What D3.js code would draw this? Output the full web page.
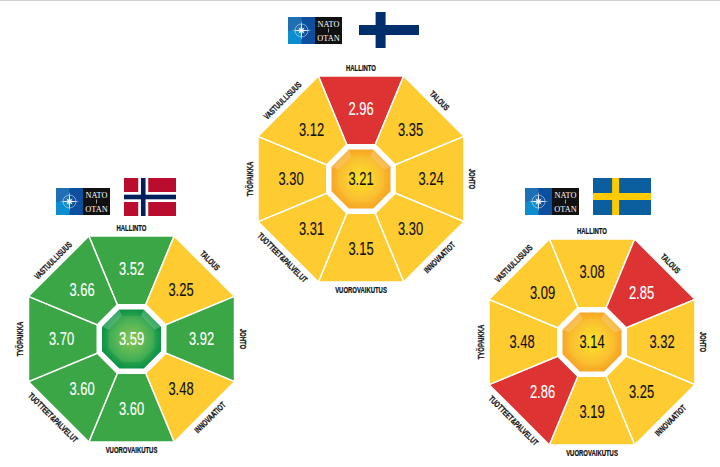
<!DOCTYPE html>
<html>
<head>
<meta charset="utf-8">
<script src="https://cdn.jsdelivr.net/npm/d3@7"></script>
<style>
  html, body { margin: 0; padding: 0; background: #fff; }
  svg { display: block; }
</style>
</head>
<body>
<div id="chart"></div>
<script>
(function(){
  const categories = ["HALLINTO", "TALOUS", "JOHTO", "INNOVAATIOT", "VUOROVAIKUTUS", "TUOTTEET&PALVELUT", "TYÖPAIKKA", "VASTUULLISUUS"];
  const finlandValues = [2.96, 3.35, 3.24, 3.30, 3.15, 3.31, 3.30, 3.12];
  const norwayValues = [3.52, 3.25, 3.92, 3.48, 3.60, 3.60, 3.70, 3.66];
  const swedenValues = [3.08, 2.85, 3.32, 3.25, 3.19, 2.86, 3.48, 3.09];
  const finlandAverage = 3.21;
  const norwayAverage = 3.59;
  const swedenAverage = 3.14;
  const labelRotations = [0, 45, 90, -45, 0, 45, -90, -45];

  const width = 720, height = 467;
  const flatRadius = 103;
  const cornerFactor = 1 / Math.cos(Math.PI / 8);
  const fontFamily = "'Liberation Sans', sans-serif";

  const svg = d3.select("#chart")
    .append("svg")
    .attr("width", width)
    .attr("height", height);

  svg.append("rect")
    .attr("width", width)
    .attr("height", 1)
    .attr("fill", "#d2d2d2");

  const defs = svg.append("defs");
  gradient("hub-yellow", "#fbe41c", "#fabf28", "#f7a827");
  gradient("hub-green", "#7fc241", "#3bab48", "#0e9347");

  function gradient(id, c0, c1, c2) {
    const g = defs.append("radialGradient").attr("id", id);
    g.append("stop").attr("offset", "0%").attr("stop-color", c0);
    g.append("stop").attr("offset", "65%").attr("stop-color", c1);
    g.append("stop").attr("offset", "100%").attr("stop-color", c2);
  }

  // sectors start half a band left of north so HALLINTO points straight up
  const angle = d3.scaleBand()
    .domain(categories)
    .range([-Math.PI / 8, 2 * Math.PI - Math.PI / 8]);

  const color = d3.scaleThreshold()
    .domain([3, 3.5])
    .range(["#dd3333", "#fecb30", "#3aa645"]);

  const textColor = d3.scaleThreshold()
    .domain([3, 3.5])
    .range(["#ffffff", "#111111", "#ffffff"]);

  const radial = d3.lineRadial().curve(d3.curveLinearClosed);

  function octagon(r) {
    return radial(d3.range(8).map(i => [i * Math.PI / 4 - Math.PI / 8, r * cornerFactor]));
  }

  function polar(a, r) {
    return [r * Math.sin(a), -r * Math.cos(a)];
  }

  drawOctagon(361, 179, finlandValues, finlandAverage);
  drawOctagon(131.5, 339, norwayValues, norwayAverage);
  drawOctagon(592, 342, swedenValues, swedenAverage);

  drawLogo(288, 17, 54, 27);
  drawLogo(56, 188, 54, 27);
  drawLogo(525, 188, 54, 27);

  drawFlag(359, 12, 60, 36, "#ffffff", "#002f6c", 0.36, 10);
  drawFlag(124, 178, 52, 38, "#ba0c2f", "#ffffff", 0.37, 10, "#00205b", 4.6);
  drawFlag(593, 178, 58, 37, "#0b5f9f", "#fecb00", 0.39, 7);

  function drawOctagon(cx, cy, values, average) {
    const g = svg.append("g").attr("transform", `translate(${cx},${cy})`);

    g.selectAll("path.sector")
      .data(categories)
      .join("path")
      .attr("class", "sector")
      .attr("d", d => radial([
        [0, 0],
        [angle(d), flatRadius * cornerFactor],
        [angle(d) + angle.bandwidth(), flatRadius * cornerFactor]
      ]))
      .attr("fill", (d, i) => color(values[i]))
      .attr("stroke", "#fff")
      .attr("stroke-width", 1.5)
      .attr("stroke-linejoin", "round");

    g.selectAll("text.value")
      .data(categories)
      .join("text")
      .attr("class", "value")
      .attr("transform", d => {
        const p = polar(angle(d) + angle.bandwidth() / 2, 70);
        return `translate(${p[0]},${p[1]}) scale(0.7,1)`;
      })
      .attr("dy", "0.35em")
      .attr("text-anchor", "middle")
      .attr("font-family", fontFamily)
      .attr("font-size", 18.5)
      .attr("fill", (d, i) => textColor(values[i]))
      .attr("stroke", (d, i) => textColor(values[i]))
      .attr("stroke-width", 0.15)
      .text((d, i) => values[i].toFixed(2));

    g.selectAll("text.label")
      .data(categories)
      .join("text")
      .attr("class", "label")
      .attr("transform", (d, i) => {
        const p = polar(angle(d) + angle.bandwidth() / 2, 111);
        return `translate(${p[0]},${p[1]}) rotate(${labelRotations[i]}) scale(0.7,1)`;
      })
      .attr("dy", "0.35em")
      .attr("text-anchor", "middle")
      .attr("font-family", fontFamily)
      .attr("font-weight", "bold")
      .attr("font-size", 8.5)
      .attr("fill", "#111")
      .attr("stroke", "#111")
      .attr("stroke-width", 0.25)
      .text(d => d);

    // hub: white ring, gradient plate, two lighter facets
    g.append("path").attr("d", octagon(35)).attr("fill", "#fff");
    const isGreen = average >= 3.5;
    g.append("path")
      .attr("d", octagon(29.5))
      .attr("fill", isGreen ? "url(#hub-green)" : "url(#hub-yellow)");
    g.append("path")
      .attr("d", octagon(23))
      .attr("fill", isGreen ? "#ffffff" : "#fff2a0")
      .attr("opacity", 0.08);

    const facet = d3.areaRadial()
      .angle(d => d)
      .innerRadius(23 * cornerFactor)
      .outerRadius(29.5 * cornerFactor);
    [-Math.PI / 4, Math.PI / 4].forEach(mid => {
      g.append("path")
        .attr("d", facet([mid - Math.PI / 8, mid + Math.PI / 8]))
        .attr("fill", "#fff")
        .attr("opacity", 0.2);
    });

    g.append("text")
      .attr("transform", "scale(0.7,1)")
      .attr("dy", "0.35em")
      .attr("text-anchor", "middle")
      .attr("font-family", fontFamily)
      .attr("font-size", 18.5)
      .attr("fill", isGreen ? "#fff" : "#111")
      .attr("stroke", isGreen ? "#fff" : "#111")
      .attr("stroke-width", 0.15)
      .text(average.toFixed(2));
  }

  function drawLogo(x, y, w, h) {
    const g = svg.append("g").attr("transform", `translate(${x},${y})`);
    const half = w / 2;
    g.append("rect").attr("width", half).attr("height", h).attr("fill", "#0c4f9e");
    g.append("rect").attr("width", half / 2).attr("height", h / 2).attr("fill", "#1f6fb5");
    g.append("rect").attr("y", h / 2).attr("width", half / 2).attr("height", h / 2).attr("fill", "#0b8dd0");
    g.append("rect").attr("x", half).attr("width", half).attr("height", h).attr("fill", "#111");

    const star = d3.range(16).map(i => [i * Math.PI / 8, i % 4 === 0 ? 10 : i % 2 === 0 ? 4.5 : 2]);
    g.append("path")
      .attr("transform", `translate(${half / 2},${h / 2})`)
      .attr("d", radial(star))
      .attr("fill", "#fff")
      .attr("opacity", 0.9);
    g.append("circle")
      .attr("cx", half / 2).attr("cy", h / 2).attr("r", 6.5)
      .attr("fill", "none").attr("stroke", "#fff").attr("stroke-width", 0.6).attr("opacity", 0.8);

    [["NATO", h * 0.27], ["OTAN", h * 0.79]].forEach(t => {
      g.append("text")
        .attr("transform", `translate(${half + half / 2},${t[1]}) scale(0.92,1)`)
        .attr("dy", "0.35em")
        .attr("text-anchor", "middle")
        .attr("font-family", "'Liberation Serif', serif")
        .attr("font-size", 9)
        .attr("fill", "#fff")
        .text(t[0]);
    });
    g.append("rect")
      .attr("x", half + half / 2 - 0.3).attr("y", h / 2 - 2)
      .attr("width", 0.6).attr("height", 4).attr("fill", "#fff");
  }

  function drawFlag(x, y, w, h, field, cross, crossPos, crossSize, inner, innerSize) {
    const g = svg.append("g").attr("transform", `translate(${x},${y})`);
    const cx = w * crossPos;
    const bars = (c, s) => {
      g.append("rect").attr("x", cx - s / 2).attr("width", s).attr("height", h).attr("fill", c);
      g.append("rect").attr("y", h / 2 - s / 2).attr("width", w).attr("height", s).attr("fill", c);
    };
    g.append("rect").attr("width", w).attr("height", h).attr("fill", field);
    bars(cross, crossSize);
    if (inner) bars(inner, innerSize);
  }
})();
</script>
</body>
</html>
